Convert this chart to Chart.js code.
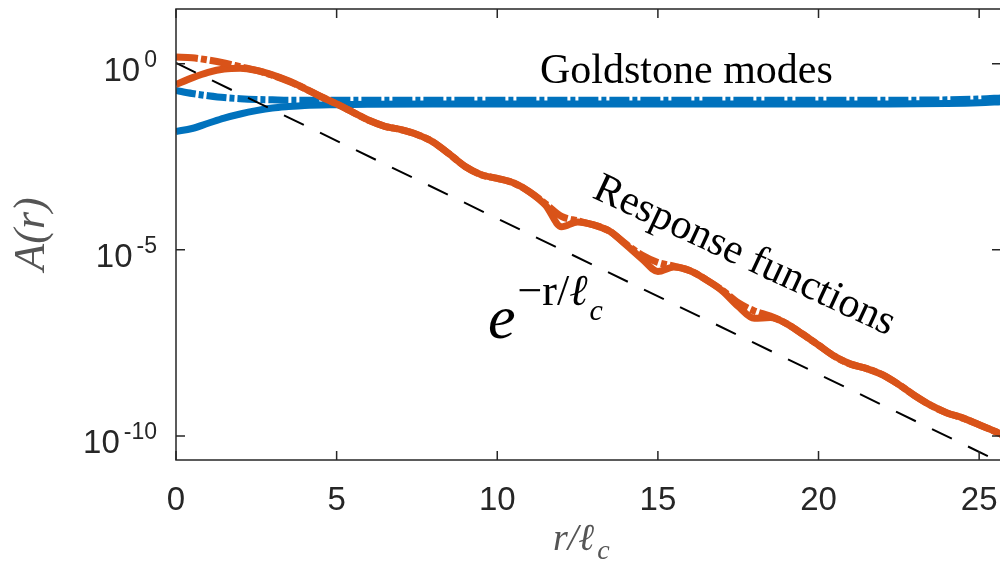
<!DOCTYPE html>
<html lang="en">
<head>
<meta charset="UTF-8" />
<meta name="viewport" content="width=device-width, initial-scale=1" />
<title>Goldstone modes and response functions</title>
<script src="https://cdn.jsdelivr.net/npm/chart.js"></script>
<style>
  html, body {
    margin: 0;
    padding: 0;
    background: #fff;
    overflow: hidden;
  }
  #wrap {
    width: 1010px;
    height: 564px;
  }
</style>
</head>
<body>

<div id="wrap"><canvas id="chart" width="1010" height="564"></canvas></div>

<script>
  // r / l_c sample points for the orange (response function) curves
  const rOrange = [0, 0.5, 1, 1.5, 2, 2.5, 3, 3.5, 4, 4.5, 5, 5.5, 6, 6.5, 7, 7.5, 8, 8.5, 9, 9.5,
    10, 10.5, 11, 11.5, 12, 12.5, 13, 13.5, 14, 14.5, 15, 15.5, 16, 16.5, 17, 17.5, 18, 18.5, 19, 19.5,
    20, 20.5, 21, 21.5, 22, 22.5, 23, 23.5, 24, 24.5, 25, 25.5, 25.7];
  // log10 A(r)
  const respSolidExp = [-0.56, -0.38, -0.23, -0.14, -0.12, -0.18, -0.30, -0.46, -0.66, -0.88, -1.08, -1.30, -1.52, -1.68, -1.77, -1.90, -2.10, -2.42, -2.76, -2.98,
    -3.08, -3.20, -3.44, -3.80, -4.38, -4.25, -4.33, -4.50, -4.86, -5.24, -5.58, -5.46, -5.56, -5.80, -6.10, -6.52, -6.84, -6.82, -6.98, -7.26,
    -7.56, -7.86, -8.07, -8.19, -8.36, -8.62, -8.92, -9.18, -9.38, -9.52, -9.70, -9.88, -9.96];
  const respDashExp = [0.18, 0.16, 0.10, 0.02, -0.08, -0.18, -0.31, -0.47, -0.66, -0.88, -1.08, -1.30, -1.52, -1.68, -1.77, -1.90, -2.10, -2.42, -2.76, -2.98,
    -3.08, -3.20, -3.44, -3.76, -4.10, -4.22, -4.33, -4.50, -4.84, -5.14, -5.34, -5.44, -5.56, -5.80, -6.08, -6.42, -6.64, -6.78, -6.98, -7.26,
    -7.56, -7.86, -8.07, -8.19, -8.36, -8.62, -8.92, -9.18, -9.38, -9.52, -9.70, -9.88, -9.96];

  // blue (Goldstone mode) curves
  const rBlue = [0, 0.5, 1, 1.5, 2, 2.5, 3, 3.5, 4, 5, 6, 8, 10, 12, 14, 16, 18, 20, 22, 24, 25, 25.7];
  const goldSolidExp = [-1.82, -1.74, -1.60, -1.46, -1.35, -1.26, -1.19, -1.15, -1.12, -1.10, -1.09, -1.08, -1.08, -1.08, -1.08, -1.08, -1.08, -1.08, -1.08, -1.07, -1.05, -1.02];
  const goldDashExp = [-0.72, -0.80, -0.86, -0.91, -0.94, -0.96, -0.97, -0.98, -0.98, -0.98, -0.98, -0.98, -0.98, -0.98, -0.98, -0.98, -0.98, -0.98, -0.98, -0.97, -0.95, -0.92];

  // reference exponential e^{-r/l_c}
  const rExp = [0, 25.7];
  const refExp = [0.02, -10.72];

  const xTicks = [0, 5, 10, 15, 20, 25];
  const yTickExps = [0, -5, -10];

  const orange = '#D95319';
  const blue = '#0072BD';
  const axisColor = '#262626';

  const pts = (xs, es) => xs.map((x, i) => ({ x: x, y: Math.pow(10, es[i]) }));

  const axesPlugin = {
    id: 'matlabAxes',
    afterDatasetsDraw(chart) {
      const { ctx, chartArea: a } = chart;
      const xs = chart.scales.x, ys = chart.scales.y;
      ctx.save();

      // box + ticks
      ctx.strokeStyle = axisColor;
      ctx.lineWidth = 1.5;
      ctx.strokeRect(a.left, a.top, a.right - a.left, a.bottom - a.top);
      ctx.beginPath();
      xTicks.forEach(v => {
        const px = xs.getPixelForValue(v);
        ctx.moveTo(px, a.bottom); ctx.lineTo(px, a.bottom - 9);
        ctx.moveTo(px, a.top); ctx.lineTo(px, a.top + 9);
      });
      yTickExps.forEach(e => {
        const py = ys.getPixelForValue(Math.pow(10, e));
        ctx.moveTo(a.left, py); ctx.lineTo(a.left + 9, py);
        ctx.moveTo(a.right, py); ctx.lineTo(a.right - 9, py);
      });
      ctx.stroke();

      // x tick labels
      ctx.fillStyle = axisColor;
      ctx.font = '33px "Liberation Sans", Arial, sans-serif';
      ctx.textAlign = 'center';
      ctx.textBaseline = 'alphabetic';
      xTicks.forEach(v => {
        ctx.fillText(String(v), xs.getPixelForValue(v), 510);
      });

      // y tick labels 10^e
      ctx.textAlign = 'left';
      yTickExps.forEach(e => {
        const py = ys.getPixelForValue(Math.pow(10, e));
        const expStr = String(e);
        ctx.font = '23px "Liberation Sans", Arial, sans-serif';
        const ew = ctx.measureText(expStr).width;
        const right = 157;
        ctx.fillText(expStr, right - ew, py + 3);
        ctx.font = '33px "Liberation Sans", Arial, sans-serif';
        const bw = ctx.measureText('10').width;
        ctx.fillText('10', right - ew - 4 - bw, py + 17);
      });

      // axis titles
      ctx.fillStyle = '#555';
      ctx.font = 'italic 38px "Liberation Serif", "DejaVu Serif", serif';
      ctx.textAlign = 'left';
      ctx.fillText('r/\u2113', 553, 550);
      const tw = ctx.measureText('r/\u2113').width;
      ctx.font = 'italic 28px "Liberation Serif", "DejaVu Serif", serif';
      ctx.fillText('c', 553 + tw + 3, 559);

      ctx.save();
      ctx.translate(44, 234);
      ctx.rotate(-Math.PI / 2);
      ctx.textAlign = 'center';
      ctx.font = 'italic 44px "Liberation Serif", "DejaVu Serif", serif';
      ctx.fillText('A(r)', 0, 0);
      ctx.restore();

      // annotations
      ctx.fillStyle = '#000';
      ctx.textAlign = 'left';
      ctx.font = '42px "Liberation Serif", "Times New Roman", serif';
      ctx.fillText('Goldstone modes', 540, 83);

      ctx.save();
      ctx.translate(591, 197);
      ctx.rotate(25 * Math.PI / 180);
      ctx.fillText('Response functions', 0, 0);
      ctx.restore();

      ctx.font = 'italic 62px "Liberation Serif", serif';
      ctx.fillText('e', 488, 338);
      const exW = ctx.measureText('e').width;
      let cx = 488 + exW + 2;
      ctx.font = '44px "Liberation Serif", serif';
      ctx.fillText('\u2212r/', cx, 305);
      cx += ctx.measureText('\u2212r/').width;
      ctx.font = 'italic 44px "Liberation Serif", serif';
      ctx.fillText('\u2113', cx, 305);
      cx += ctx.measureText('\u2113').width + 2;
      ctx.font = 'italic 30px "Liberation Serif", serif';
      ctx.fillText('c', cx, 320);

      ctx.restore();
    }
  };

  const ctx = document.getElementById('chart').getContext('2d');

  const config = {
    type: 'line',
    data: {
      datasets: [
        {
          label: 'exp(-r/lc)',
          data: pts(rExp, refExp),
          borderColor: '#000',
          borderWidth: 2,
          borderDash: [22, 18],
          pointRadius: 0,
          tension: 0,
          order: 0
        },
        {
          label: 'Response (dash-dot)',
          data: pts(rOrange, respDashExp),
          borderColor: orange,
          borderWidth: 7,
          borderDash: [22, 3, 6, 3],
          borderCapStyle: 'butt',
          pointRadius: 0,
          cubicInterpolationMode: 'monotone',
          order: 1
        },
        {
          label: 'Response',
          data: pts(rOrange, respSolidExp),
          borderColor: orange,
          borderWidth: 7,
          pointRadius: 0,
          cubicInterpolationMode: 'monotone',
          order: 2
        },
        {
          label: 'Goldstone (dash-dot)',
          data: pts(rBlue, goldDashExp),
          borderColor: blue,
          borderWidth: 7,
          borderDash: [20, 3, 5, 3],
          borderCapStyle: 'butt',
          pointRadius: 0,
          cubicInterpolationMode: 'monotone',
          order: 3
        },
        {
          label: 'Goldstone',
          data: pts(rBlue, goldSolidExp),
          borderColor: blue,
          borderWidth: 7,
          pointRadius: 0,
          cubicInterpolationMode: 'monotone',
          order: 4
        }
      ]
    },
    options: {
      responsive: false,
      animation: false,
      devicePixelRatio: 1,
      layout: { padding: { left: 176, top: 9, right: 9, bottom: 104 } },
      plugins: {
        legend: { display: false },
        tooltip: { enabled: false }
      },
      scales: {
        x: { type: 'linear', min: 0, max: 25.68, display: false },
        y: { type: 'logarithmic', min: Math.pow(10, -10.645), max: Math.pow(10, 1.47), display: false }
      }
    },
    plugins: [axesPlugin]
  };

  const chart = new Chart(ctx, config);
</script>

</body>
</html>
